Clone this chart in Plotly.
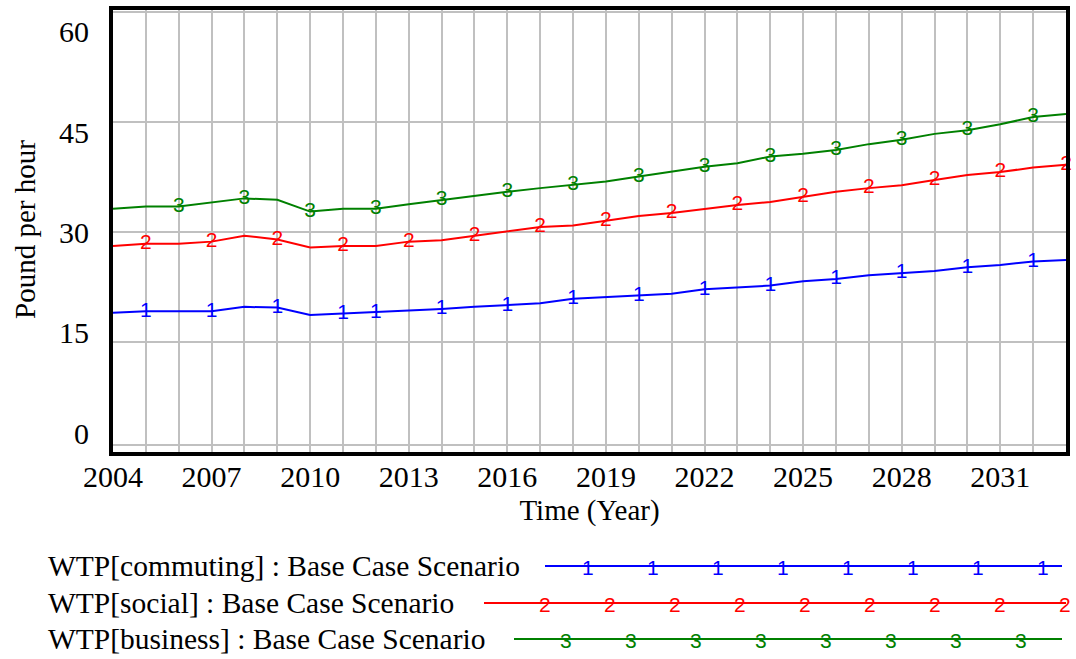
import plotly.graph_objects as go

# ---------------- data ----------------
years = list(range(2004, 2034))
commuting = [19.0, 19.2, 19.2, 19.2, 19.8, 19.7, 18.7, 18.9, 19.0, 19.2,
             19.5, 19.8, 20.0, 20.3, 20.9, 21.1, 21.3, 21.6, 22.2, 22.5,
             22.7, 23.3, 23.6, 24.1, 24.4, 24.7, 25.2, 25.5, 26.0, 26.2]
social = [28.1, 28.4, 28.4, 28.7, 29.5, 29.0, 27.9, 28.1, 28.1, 28.7,
          28.9, 29.5, 30.1, 30.7, 30.9, 31.6, 32.2, 32.6, 33.2, 33.7,
          34.1, 34.8, 35.5, 36.0, 36.4, 37.1, 37.8, 38.2, 38.8, 39.2]
business = [33.2, 33.5, 33.5, 34.1, 34.6, 34.4, 32.8, 33.2, 33.2, 33.8,
            34.4, 34.9, 35.5, 36.0, 36.4, 36.9, 37.6, 38.3, 38.9, 39.4,
            40.3, 40.7, 41.2, 42.0, 42.6, 43.4, 43.9, 44.7, 45.7, 46.1]

commuting_marks = [2005, 2007, 2009, 2011, 2012, 2014, 2016, 2018, 2020,
                   2022, 2024, 2026, 2028, 2030, 2032]
social_marks = list(range(2005, 2034, 2))
business_marks = list(range(2006, 2033, 2))

series_names = ["WTP[commuting] : Base Case Scenario",
                "WTP[social] : Base Case Scenario",
                "WTP[business] : Base Case Scenario"]
series_labels = ["1", "2", "3"]
x_tick_labels = [str(y) for y in range(2004, 2034, 3)]
y_tick_vals = [0, 15, 30, 45, 60]

# ---------------- styling ----------------
colors = ["#0000ff", "#ff0000", "#008000"]
SERIF = "Liberation Serif, Times New Roman, serif"
SANS = "Liberation Sans, Arial, sans-serif"

W, H = 1076, 659
L, R, T, B = 113, 1066, 10, 452  # plot area in pixels


def px_x(p):
    return (p - L) / (R - L)


def px_y(p):
    return (B - p) / (B - T)


fig = go.Figure()

all_series = [commuting, social, business]
all_marks = [commuting_marks, social_marks, business_marks]
for vals, marks, col, lab, name in zip(all_series, all_marks, colors,
                                       series_labels, series_names):
    fig.add_trace(go.Scatter(x=years, y=vals, mode="lines", name=name,
                             line=dict(color=col, width=2),
                             showlegend=False, hoverinfo="skip",
                             cliponaxis=False))
    fig.add_trace(go.Scatter(x=marks, y=[vals[years.index(m)] for m in marks],
                             mode="text", text=[lab] * len(marks),
                             textposition="middle center",
                             textfont=dict(family=SANS, size=21, color=col),
                             showlegend=False, hoverinfo="skip",
                             cliponaxis=False))

tickvals = years
ticktext = [str(y) if str(y) in x_tick_labels else "" for y in years]

fig.update_xaxes(range=[2004, 2033], tickmode="array", tickvals=tickvals,
                 ticktext=ticktext, showgrid=True, gridcolor="#c0c0c0",
                 gridwidth=2, showline=True, linecolor="black", linewidth=4,
                 mirror=True, ticks="", ticklabelstandoff=-5,
                 zeroline=False, automargin=False,
                 tickfont=dict(family=SERIF, size=30, color="black"),
                 title=dict(text="Time (Year)", standoff=9,
                            font=dict(family=SERIF, size=29, color="black")))
fig.update_yaxes(range=[0, 60.3], tickmode="array", tickvals=y_tick_vals,
                 showgrid=True, gridcolor="#c0c0c0", gridwidth=2,
                 showline=True, linecolor="black", linewidth=4, mirror=True,
                 ticks="", showticklabels=False,
                 zeroline=False, automargin=False)

# y tick labels and title (Vensim places them on an even spacing)
y_label_px = [433, 332, 232, 132, 31]
annotations = []
for v, p in zip(y_tick_vals, y_label_px):
    annotations.append(dict(xref="paper", yref="paper", x=px_x(91), y=px_y(p),
                            xanchor="right", yanchor="middle", text=str(v),
                            showarrow=False,
                            font=dict(family=SERIF, size=30, color="black")))
annotations.append(dict(xref="paper", yref="paper", x=px_x(25), y=px_y(230),
                        xanchor="center", yanchor="middle",
                        text="Pound per hour", textangle=-90, showarrow=False,
                        font=dict(family=SERIF, size=29, color="black")))

shapes = [dict(type="line", xref="paper", yref="paper", x0=0, x1=1,
               y0=px_y(445), y1=px_y(445), layer="below",
               line=dict(color="#c0c0c0", width=2))]

# ---------------- custom legend ----------------
legend_rows = [566, 603, 639]
legend_line_spans = [(545, 1062), (484, 1066), (514, 1062)]
legend_glyph_px = [
    [588, 653, 718, 783, 848, 913, 978, 1043],
    [545, 610, 675, 740, 805, 870, 935, 1000, 1065],
    [566, 631, 696, 761, 826, 891, 956, 1021],
]
for i in range(3):
    yy = px_y(legend_rows[i])
    x0, x1 = legend_line_spans[i]
    shapes.append(dict(type="line", xref="paper", yref="paper",
                       x0=px_x(x0), x1=px_x(x1), y0=yy, y1=yy,
                       line=dict(color=colors[i], width=2)))
    annotations.append(dict(xref="paper", yref="paper", x=px_x(46), y=yy,
                            xanchor="left", yanchor="middle",
                            text=series_names[i], showarrow=False,
                            font=dict(family=SERIF, size=29.5,
                                      color="black")))
    for gx in legend_glyph_px[i]:
        annotations.append(dict(xref="paper", yref="paper", x=px_x(gx),
                                y=px_y(legend_rows[i] + 1), xanchor="center",
                                yanchor="middle", text=series_labels[i],
                                showarrow=False,
                                font=dict(family=SANS, size=21,
                                          color=colors[i])))

fig.update_layout(width=W, height=H, plot_bgcolor="white",
                  paper_bgcolor="white",
                  margin=dict(l=L, r=W - R, t=T, b=H - B),
                  shapes=shapes, annotations=annotations)

# remove the browser's default page margin so the figure fills the window
fig.write_html("out.html",
               config={"displayModeBar": False},
               post_script="document.body.style.margin='0';"
                           "document.body.style.overflow='hidden';")
